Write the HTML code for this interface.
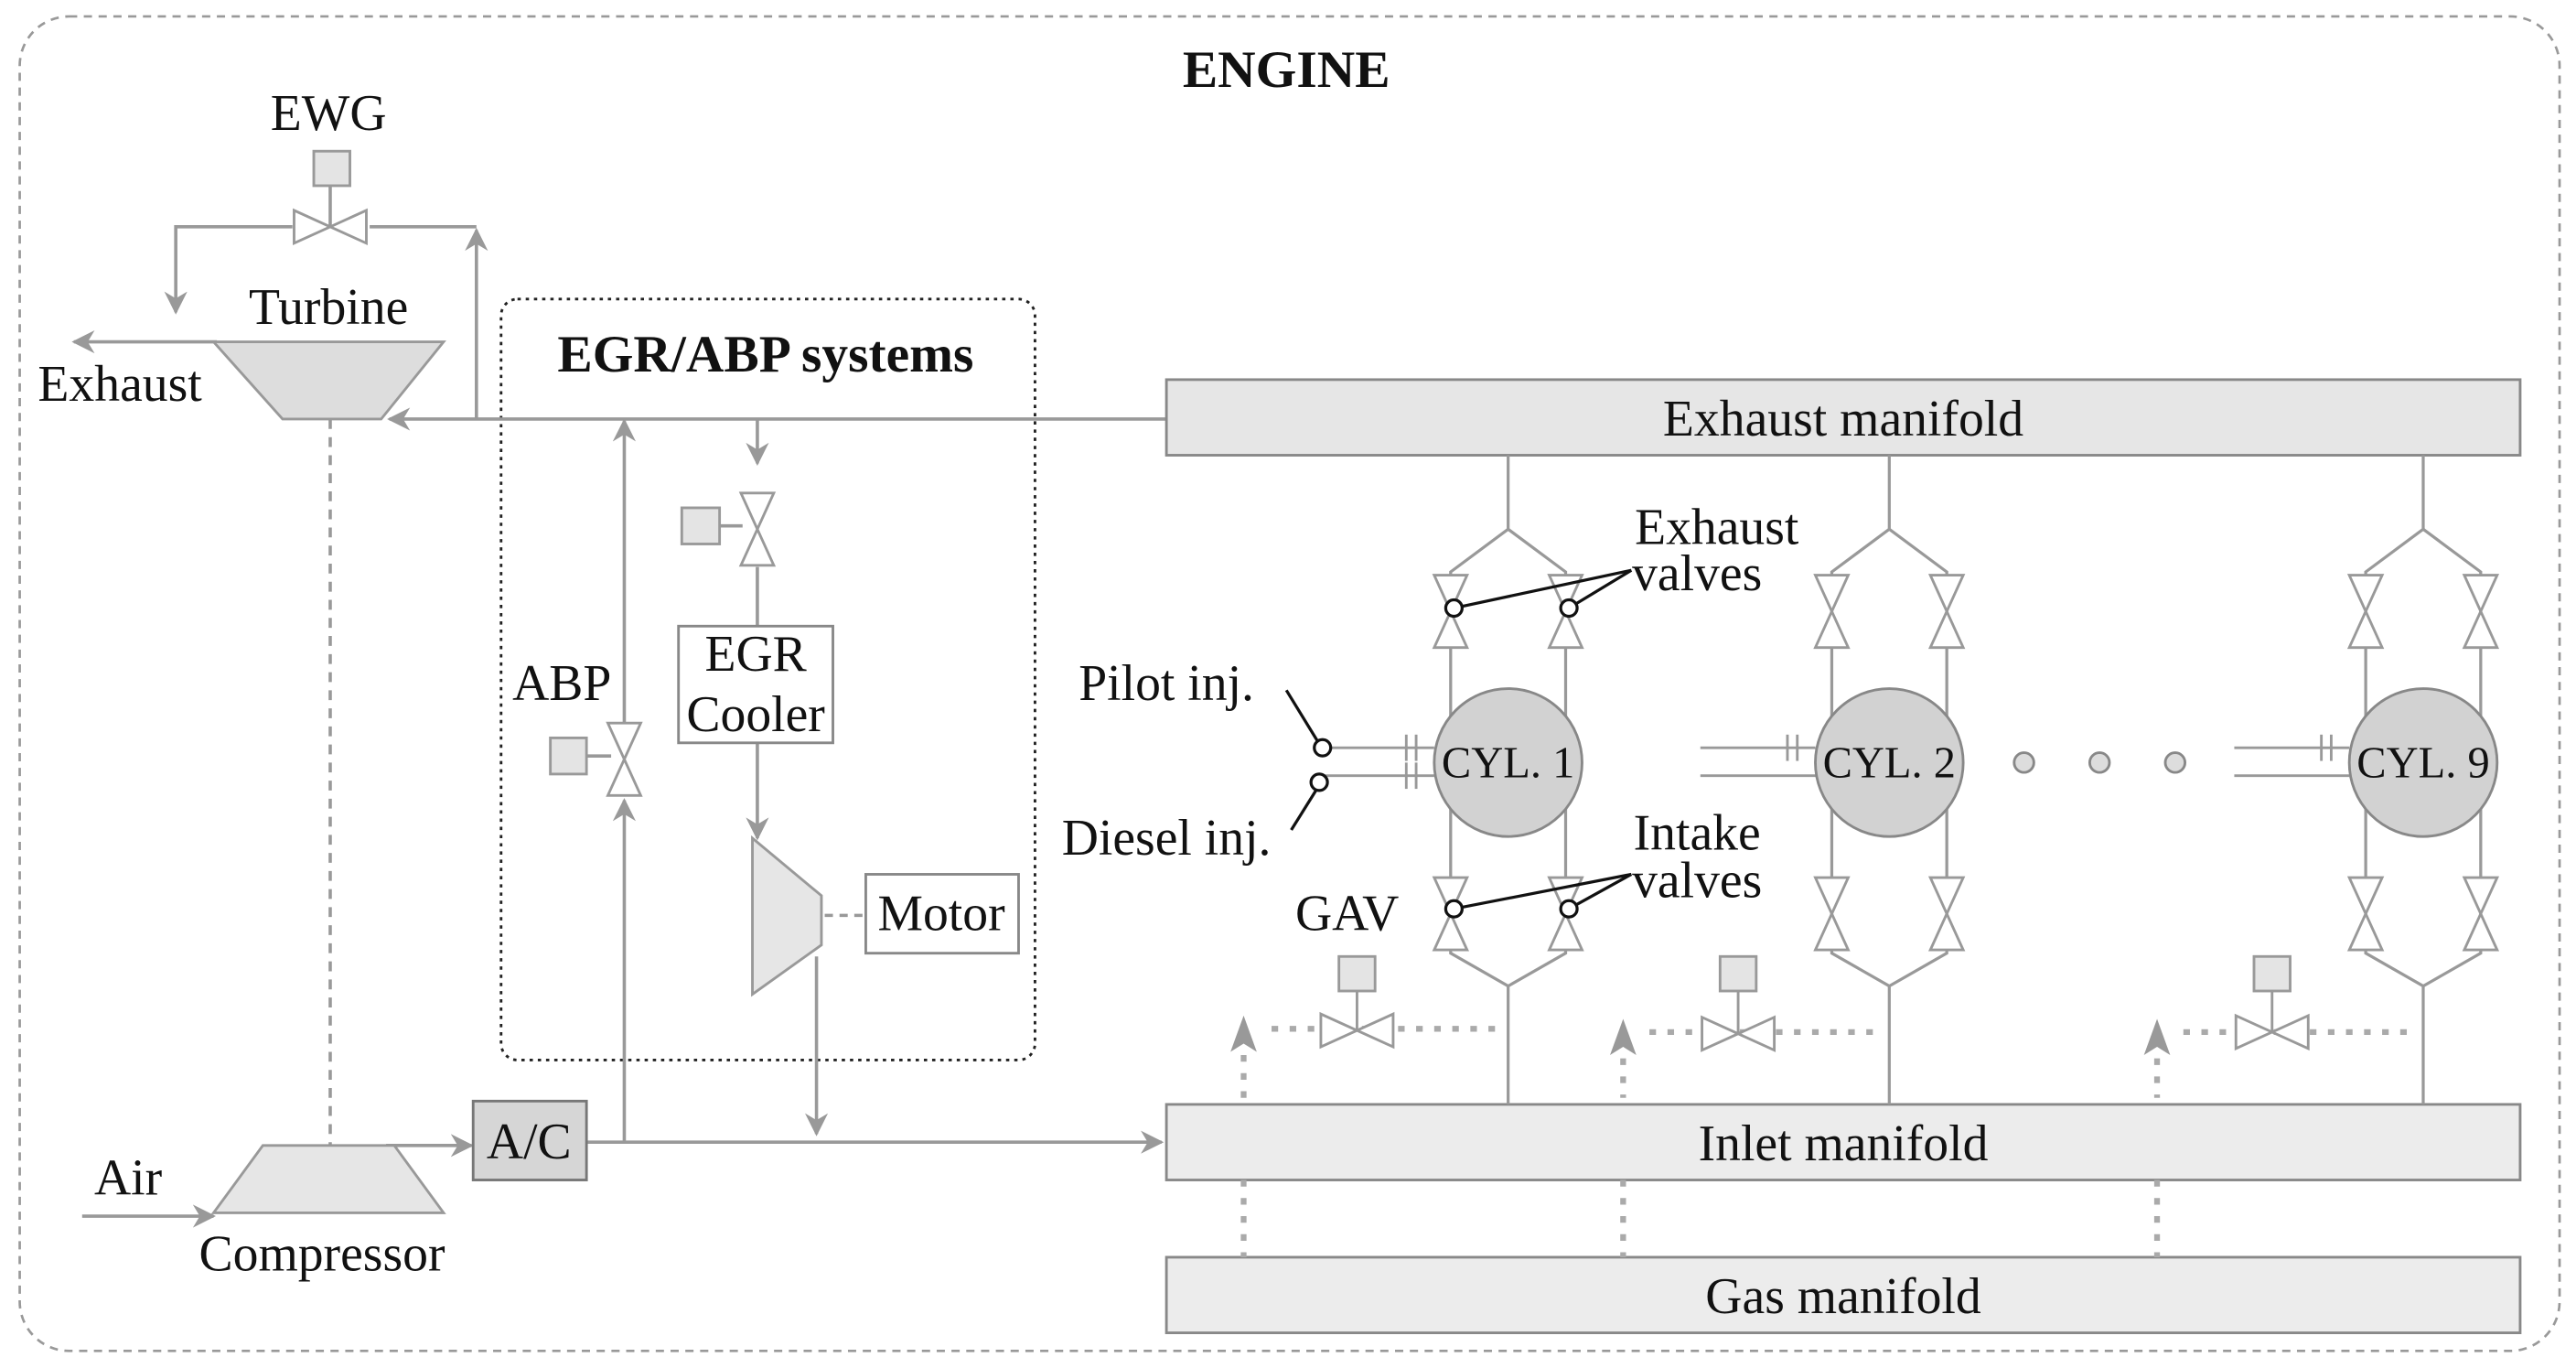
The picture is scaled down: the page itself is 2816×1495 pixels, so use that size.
<!DOCTYPE html>
<html><head><meta charset="utf-8"><style>
html,body{margin:0;padding:0;background:#fff;}
svg{display:block;}
text{font-family:"Liberation Serif",serif;fill:#111;}
</style></head><body>
<svg width="2816" height="1495" viewBox="0 0 1568 832.4" preserveAspectRatio="none" xmlns="http://www.w3.org/2000/svg">
<defs>
<marker id="a" viewBox="0 0 10 10" refX="9" refY="5" markerWidth="7" markerHeight="7" orient="auto-start-reverse"><path d="M0,0 L10,5 L0,10 L3,5 z" fill="#999"/></marker>
<g id="vv"><path d="M-10,-22 L10,-22 L-10,22 L10,22 Z" fill="#fff" stroke="#999" stroke-width="1.6"/></g>
<g id="vh"><path d="M-22,-10 L-22,10 L22,-10 L22,10 Z" fill="#fff" stroke="#999" stroke-width="1.6"/></g>
<g id="cylsys">
<polyline points="0,277 0,322 -35,348 -35,440"/>
<polyline points="0,322 35,348 35,440"/>
<polyline points="0,672 0,600 -35,580 -35,490"/>
<polyline points="0,600 35,580 35,490"/>
</g>
</defs>
<g stroke="#999" stroke-width="2" fill="none">
<rect x="12" y="10" width="1546" height="812" rx="30" stroke-dasharray="5,4" stroke-width="1.5"/>
<rect x="305" y="182" width="325" height="463" rx="10" stroke="#222" stroke-dasharray="2,3" stroke-width="1.6"/>
<line x1="201" y1="113" x2="201" y2="138"/>
<polyline points="178,138 107,138 107,190" marker-end="url(#a)"/>
<polyline points="225,138 290,138"/>
<line x1="290" y1="255" x2="290" y2="140" marker-end="url(#a)"/>
<line x1="710" y1="255" x2="237" y2="255" marker-end="url(#a)"/>
<line x1="132" y1="208" x2="45" y2="208" marker-end="url(#a)"/>
<line x1="201" y1="255" x2="201" y2="697" stroke-dasharray="6,5"/>
<line x1="50" y1="740" x2="130" y2="740" marker-end="url(#a)"/>
<line x1="235" y1="697" x2="287" y2="697" marker-end="url(#a)"/>
<line x1="357" y1="695" x2="707" y2="695" marker-end="url(#a)"/>
<line x1="380" y1="695" x2="380" y2="487" marker-end="url(#a)"/>
<line x1="380" y1="440" x2="380" y2="256" marker-end="url(#a)"/>
<line x1="357" y1="460" x2="372" y2="460"/>
<line x1="461" y1="255" x2="461" y2="282" marker-end="url(#a)"/>
<line x1="461" y1="345" x2="461" y2="381"/>
<line x1="438" y1="320" x2="452" y2="320"/>
<line x1="461" y1="452" x2="461" y2="510" marker-end="url(#a)"/>
<line x1="502" y1="557" x2="527" y2="557" stroke-dasharray="5,4"/>
<line x1="497" y1="582" x2="497" y2="690" marker-end="url(#a)"/>
</g>
<g stroke="#999" stroke-width="1.6">
<rect x="191" y="92" width="22" height="21" fill="#e4e4e4"/>
<use href="#vh" x="201" y="138"/>
<polygon points="130,208 270,208 232,255 172,255" fill="#ddd"/>
<polygon points="160,697 240,697 270,738 130,738" fill="#e6e6e6"/>
<rect x="288" y="670" width="69" height="48" fill="#d6d6d6" stroke="#777"/>
<use href="#vv" x="380" y="462"/>
<rect x="335" y="449" width="22" height="22" fill="#e4e4e4"/>
<use href="#vv" x="461" y="322"/>
<rect x="415" y="309" width="23" height="22" fill="#e4e4e4"/>
<rect x="413" y="381" width="94" height="71" fill="#fff" stroke="#888"/>
<polygon points="458,510 500,545 500,575 458,605" fill="#e6e6e6"/>
<rect x="527" y="532" width="93" height="48" fill="#fff" stroke="#888"/>
<rect x="710" y="231" width="824" height="46" fill="#e6e6e6" stroke="#888"/>
<rect x="710" y="672" width="824" height="46" fill="#ececec" stroke="#888"/>
<rect x="710" y="765" width="824" height="46" fill="#ececec" stroke="#888"/>
</g>
<g stroke="#999" stroke-width="1.8" fill="none">
<use href="#cylsys" x="918"/>
<use href="#cylsys" x="1150"/>
<use href="#cylsys" x="1475"/>
</g>
<g stroke="#999" stroke-width="1.6">
<use href="#vv" x="883" y="372"/><use href="#vv" x="953" y="372"/>
<use href="#vv" x="883" y="556"/><use href="#vv" x="953" y="556"/>
<use href="#vv" x="1115" y="372"/><use href="#vv" x="1185" y="372"/>
<use href="#vv" x="1115" y="556"/><use href="#vv" x="1185" y="556"/>
<use href="#vv" x="1440" y="372"/><use href="#vv" x="1510" y="372"/>
<use href="#vv" x="1440" y="556"/><use href="#vv" x="1510" y="556"/>
</g>
<g stroke="#999" stroke-width="1.6" fill="none">
<line x1="805" y1="455" x2="873" y2="455"/><line x1="805" y1="472" x2="873" y2="472"/>
<line x1="856" y1="447" x2="856" y2="463"/><line x1="862" y1="447" x2="862" y2="463"/>
<line x1="856" y1="464" x2="856" y2="480"/><line x1="862" y1="464" x2="862" y2="480"/>
<line x1="1035" y1="455" x2="1105" y2="455"/><line x1="1035" y1="472" x2="1105" y2="472"/>
<line x1="1088" y1="447" x2="1088" y2="463"/><line x1="1094" y1="447" x2="1094" y2="463"/>
<line x1="1360" y1="455" x2="1430" y2="455"/><line x1="1360" y1="472" x2="1430" y2="472"/>
<line x1="1413" y1="447" x2="1413" y2="463"/><line x1="1419" y1="447" x2="1419" y2="463"/>
</g>
<g stroke="#888" stroke-width="1.6" fill="#d2d2d2">
<circle cx="918" cy="464" r="45"/><circle cx="1150" cy="464" r="45"/><circle cx="1475" cy="464" r="45"/>
<circle cx="1232" cy="464" r="6" fill="#ddd"/><circle cx="1278" cy="464" r="6" fill="#ddd"/><circle cx="1324" cy="464" r="6" fill="#ddd"/>
</g>
<g stroke="#111" stroke-width="1.8" fill="#fff">
<line x1="783" y1="420" x2="802" y2="451"/><circle cx="805" cy="455" r="5"/>
<line x1="786" y1="505" x2="801" y2="481"/><circle cx="803" cy="476" r="5"/>
<line x1="993" y1="347" x2="885" y2="370"/><line x1="993" y1="347" x2="955" y2="370"/>
<circle cx="885" cy="370" r="5"/><circle cx="955" cy="370" r="5"/>
<line x1="993" y1="532" x2="885" y2="553"/><line x1="993" y1="532" x2="955" y2="553"/>
<circle cx="885" cy="553" r="5"/><circle cx="955" cy="553" r="5"/>
</g>
<g stroke="#aaa" stroke-width="3.5" fill="none" stroke-dasharray="4,7">
<line x1="910" y1="626" x2="770" y2="626"/><line x1="757" y1="642" x2="757" y2="668"/>
<line x1="1140" y1="628" x2="1000" y2="628"/><line x1="988" y1="644" x2="988" y2="668"/>
<line x1="1465" y1="628" x2="1325" y2="628"/><line x1="1313" y1="644" x2="1313" y2="668"/>
<line x1="757" y1="718" x2="757" y2="765"/><line x1="988" y1="718" x2="988" y2="765"/><line x1="1313" y1="718" x2="1313" y2="765"/>
</g>
<g fill="#999">
<path d="M757,618 L749,640 L757,635 L765,640 Z"/>
<path d="M988,620 L980,642 L988,637 L996,642 Z"/>
<path d="M1313,620 L1305,642 L1313,637 L1321,642 Z"/>
</g>
<g stroke="#999" stroke-width="1.6">
<line x1="826" y1="603" x2="826" y2="627"/><line x1="1058" y1="603" x2="1058" y2="629"/><line x1="1383" y1="603" x2="1383" y2="628"/>
<rect x="815" y="582" width="22" height="21" fill="#e4e4e4"/>
<rect x="1047" y="582" width="22" height="21" fill="#e4e4e4"/>
<rect x="1372" y="582" width="22" height="21" fill="#e4e4e4"/>
<use href="#vh" x="826" y="627"/><use href="#vh" x="1058" y="629"/><use href="#vh" x="1383" y="628"/>
</g>
<g font-size="31">
<text x="783" y="53" text-anchor="middle" font-weight="bold" font-size="32">ENGINE</text>
<text x="466" y="226" text-anchor="middle" font-weight="bold" font-size="32">EGR/ABP systems</text>
<text x="200" y="79" text-anchor="middle">EWG</text>
<text x="200" y="197" text-anchor="middle">Turbine</text>
<text x="73" y="244" text-anchor="middle">Exhaust</text>
<text x="78" y="727" text-anchor="middle">Air</text>
<text x="196" y="773" text-anchor="middle">Compressor</text>
<text x="322" y="705" text-anchor="middle">A/C</text>
<text x="342" y="426" text-anchor="middle">ABP</text>
<text x="460" y="408" text-anchor="middle">EGR</text>
<text x="460" y="445" text-anchor="middle">Cooler</text>
<text x="573" y="566" text-anchor="middle">Motor</text>
<text x="1122" y="265" text-anchor="middle">Exhaust manifold</text>
<text x="1122" y="706" text-anchor="middle">Inlet manifold</text>
<text x="1122" y="799" text-anchor="middle">Gas manifold</text>
<text x="710" y="426" text-anchor="middle">Pilot inj.</text>
<text x="710" y="520" text-anchor="middle">Diesel inj.</text>
<text x="1045" y="331" text-anchor="middle">Exhaust</text>
<text x="1033" y="359" text-anchor="middle">valves</text>
<text x="1033" y="517" text-anchor="middle">Intake</text>
<text x="1033" y="546" text-anchor="middle">valves</text>
<text x="820" y="566" text-anchor="middle">GAV</text>
<text x="918" y="473" text-anchor="middle" font-size="27">CYL. 1</text>
<text x="1150" y="473" text-anchor="middle" font-size="27">CYL. 2</text>
<text x="1475" y="473" text-anchor="middle" font-size="27">CYL. 9</text>
</g>
</svg>
</body></html>
